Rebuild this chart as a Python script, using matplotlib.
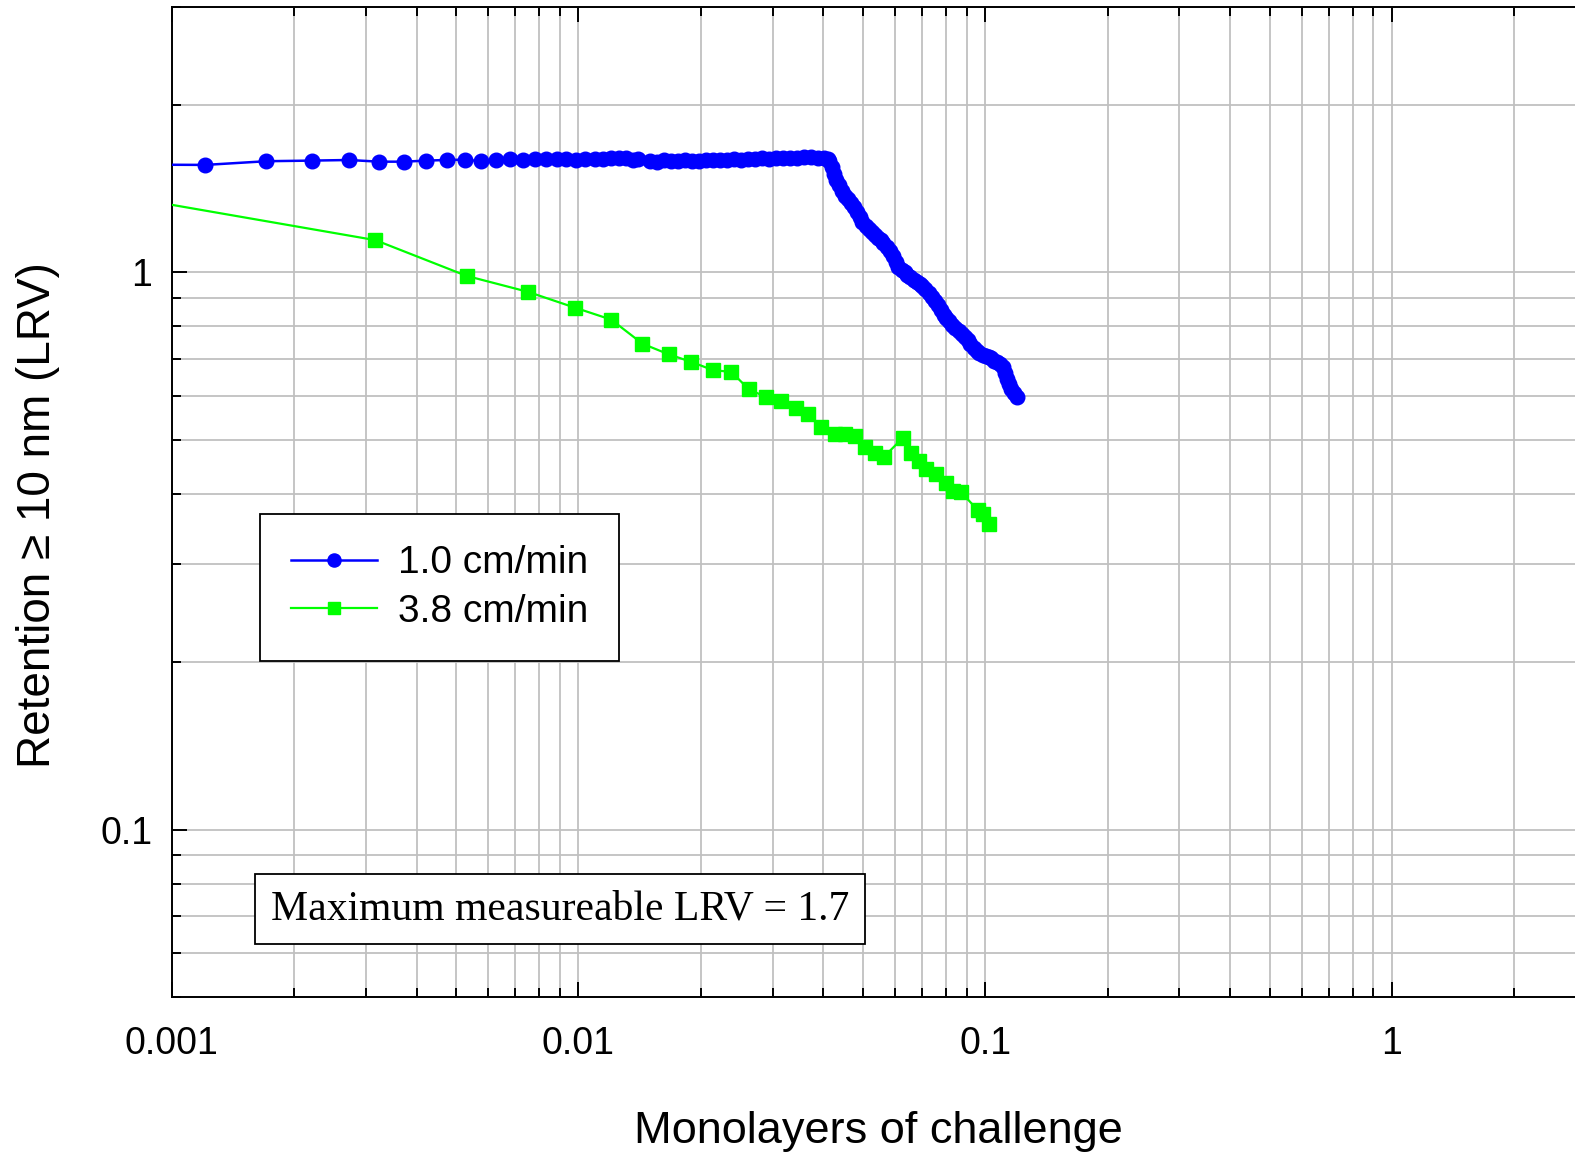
import numpy as np
import matplotlib
matplotlib.use("Agg")
import matplotlib.pyplot as plt
from matplotlib.ticker import LogLocator, NullFormatter, FixedLocator, FixedFormatter

plt.rcParams["font.family"] = ["Liberation Sans", "DejaVu Sans"]

# 1.0 cm/min run (blue circles)
slow_x = [
    0.0008,
    0.00121, 0.00171, 0.00221, 0.00273, 0.00323, 0.00373, 0.00423, 0.00474,
    0.00526, 0.00575, 0.00627, 0.00678, 0.00729, 0.00781, 0.00834, 0.00886,
    0.00934, 0.00985, 0.01036, 0.01096, 0.01149, 0.01205, 0.01259, 0.01312,
    0.01362, 0.01399,
    0.01497, 0.01557, 0.01620, 0.01686, 0.01754, 0.01824, 0.01898, 0.01975,
    0.02055, 0.02138, 0.02224, 0.02314, 0.02407, 0.02505, 0.02606, 0.02711,
    0.02821, 0.02935, 0.03053, 0.03177, 0.03305, 0.03439, 0.03578, 0.03722,
    0.03873, 0.04006, 0.04097,
    0.0414, 0.0419, 0.0424, 0.0429, 0.0436, 0.0444, 0.0451, 0.0459, 0.0467,
    0.0475, 0.0483, 0.0491, 0.0499, 0.0508, 0.0517, 0.0526, 0.0535, 0.0544,
    0.0553, 0.0562, 0.0572, 0.0582, 0.0592, 0.0602, 0.0612, 0.0623, 0.0634,
    0.0644, 0.0655, 0.0667, 0.0678, 0.0690, 0.0701, 0.0713, 0.0726, 0.0738,
    0.0751, 0.0764, 0.0777, 0.0790, 0.0803, 0.0817, 0.0831, 0.0845, 0.0860,
    0.0875, 0.0890, 0.0905, 0.0920, 0.0936, 0.0952, 0.0968, 0.0985, 0.1002,
    0.1019, 0.1036, 0.1054, 0.1072, 0.1090, 0.1109, 0.1121, 0.1134, 0.1147,
    0.1160, 0.1180, 0.1200,
]
slow_lrv = [
    1.562,
    1.560, 1.584, 1.588, 1.592, 1.581, 1.581, 1.588, 1.592,
    1.594, 1.584, 1.592, 1.599, 1.592, 1.597, 1.601, 1.601,
    1.597, 1.592, 1.599, 1.601, 1.601, 1.603, 1.605, 1.603,
    1.594, 1.599,
    1.588, 1.582, 1.589, 1.584, 1.586, 1.589, 1.585, 1.588,
    1.592, 1.589, 1.594, 1.591, 1.596, 1.595, 1.599, 1.598,
    1.602, 1.600, 1.604, 1.607, 1.608, 1.608, 1.609, 1.609,
    1.608, 1.607, 1.599,
    1.586, 1.547, 1.502, 1.466, 1.435, 1.400, 1.371, 1.355, 1.332,
    1.310, 1.284, 1.257, 1.232, 1.211, 1.196, 1.182, 1.167, 1.153,
    1.143, 1.129, 1.110, 1.092, 1.070, 1.043, 1.022, 1.010, 1.001,
    0.989, 0.981, 0.969, 0.961, 0.953, 0.945, 0.933, 0.918, 0.903,
    0.888, 0.873, 0.856, 0.838, 0.828, 0.818, 0.804, 0.794, 0.784,
    0.774, 0.765, 0.756, 0.743, 0.731, 0.722, 0.716, 0.710, 0.707,
    0.704, 0.701, 0.695, 0.690, 0.684, 0.676, 0.659, 0.643, 0.630,
    0.619, 0.607, 0.597,
]

# 3.8 cm/min run (green squares)
fast_x = [
    0.0007, 0.00317, 0.00531, 0.00752, 0.00979, 0.01204, 0.01437, 0.01667,
    0.01895, 0.02141, 0.02376, 0.02625, 0.02885, 0.03153, 0.03419, 0.03666,
    0.03954, 0.04263, 0.04511, 0.04774, 0.05051, 0.05346, 0.05625, 0.06276,
    0.06580, 0.06857, 0.07162, 0.07549, 0.08020, 0.08325, 0.08730, 0.09574,
    0.09904, 0.10246,
]
fast_lrv = [
    1.384, 1.143, 0.986, 0.923, 0.865, 0.823, 0.745, 0.713,
    0.691, 0.668, 0.663, 0.617, 0.598, 0.588, 0.572, 0.558,
    0.528, 0.512, 0.512, 0.508, 0.486, 0.474, 0.466, 0.505,
    0.474, 0.458, 0.443, 0.435, 0.419, 0.405, 0.403, 0.375,
    0.369, 0.354,
]

labels = ["1.0 cm/min", "3.8 cm/min"]
x_ticks = [0.001, 0.01, 0.1, 1]
x_ticklabels = ["0.001", "0.01", "0.1", "1"]
y_ticks = [0.1, 1]
y_ticklabels = ["0.1", "1"]
note = "Maximum measureable LRV = 1.7"


def main():
    fig = plt.figure(figsize=(15.75, 11.54), dpi=100)
    ax = fig.add_axes([0.1090, 0.1358, 0.8980, 0.8584])
    ax.set_xscale("log")
    ax.set_yscale("log")
    ax.set_xlim(0.001, 3)
    ax.set_ylim(0.05, 3)

    ax.plot(slow_x, slow_lrv, color="#0000ff", lw=1.8, marker="o",
            ms=10.5, mec="#0000ff", mfc="#0000ff", label=labels[0], zorder=4)
    ax.plot(fast_x, fast_lrv, color="#00ff00", lw=1.6, marker="s",
            ms=9.5, mec="#00ff00", mfc="#00ff00", label=labels[1], zorder=3)

    ax.xaxis.set_major_locator(FixedLocator(x_ticks))
    ax.xaxis.set_major_formatter(FixedFormatter(x_ticklabels))
    ax.xaxis.set_minor_locator(LogLocator(base=10, subs=np.arange(2, 10)))
    ax.xaxis.set_minor_formatter(NullFormatter())
    ax.yaxis.set_major_locator(FixedLocator(y_ticks))
    ax.yaxis.set_major_formatter(FixedFormatter(y_ticklabels))
    ax.yaxis.set_minor_locator(LogLocator(base=10, subs=np.arange(2, 10)))
    ax.yaxis.set_minor_formatter(NullFormatter())

    ax.set_axisbelow(True)
    ax.grid(which="both", color="#c0c0c0", lw=1.3)

    ax.tick_params(which="both", direction="in", top=True, right=False,
                   width=1.4, colors="black")
    ax.tick_params(which="major", length=10.5, labelsize=27)
    ax.tick_params(which="minor", length=6.5)
    ax.tick_params(axis="x", which="major", pad=21)
    ax.tick_params(axis="y", which="major", pad=14)
    for side in ["left", "bottom", "top"]:
        ax.spines[side].set_linewidth(1.4)
    ax.spines["right"].set_visible(False)

    ax.set_xlabel("Monolayers of challenge", fontsize=32.5, va="center")
    ax.xaxis.set_label_coords(0.5, -0.135)
    ax.set_ylabel("Retention \u2265 10 nm (LRV)", fontsize=33, va="center")
    ax.yaxis.set_label_coords(-0.0945, 0.487)

    leg = ax.legend(loc="upper left", bbox_to_anchor=(260 / 1575, 1 - 514 / 1154),
                    bbox_transform=fig.transFigure, borderaxespad=0,
                    fontsize=28, handlelength=2.2, handletextpad=0.55,
                    borderpad=0.8, labelspacing=0.32, markerscale=0.9,
                    fancybox=False, framealpha=1, edgecolor="black")
    leg.get_frame().set_linewidth(1.3)

    fig.text(560 / 1575, 1 - 909 / 1154, note, family=["Liberation Serif", "DejaVu Serif"],
             fontsize=30, ha="center", va="center",
             bbox=dict(boxstyle="square,pad=0.37", fc="white", ec="black", lw=1.3))

    fig.savefig("out.png", dpi=100)
    plt.close(fig)


if __name__ == "__main__":
    main()
